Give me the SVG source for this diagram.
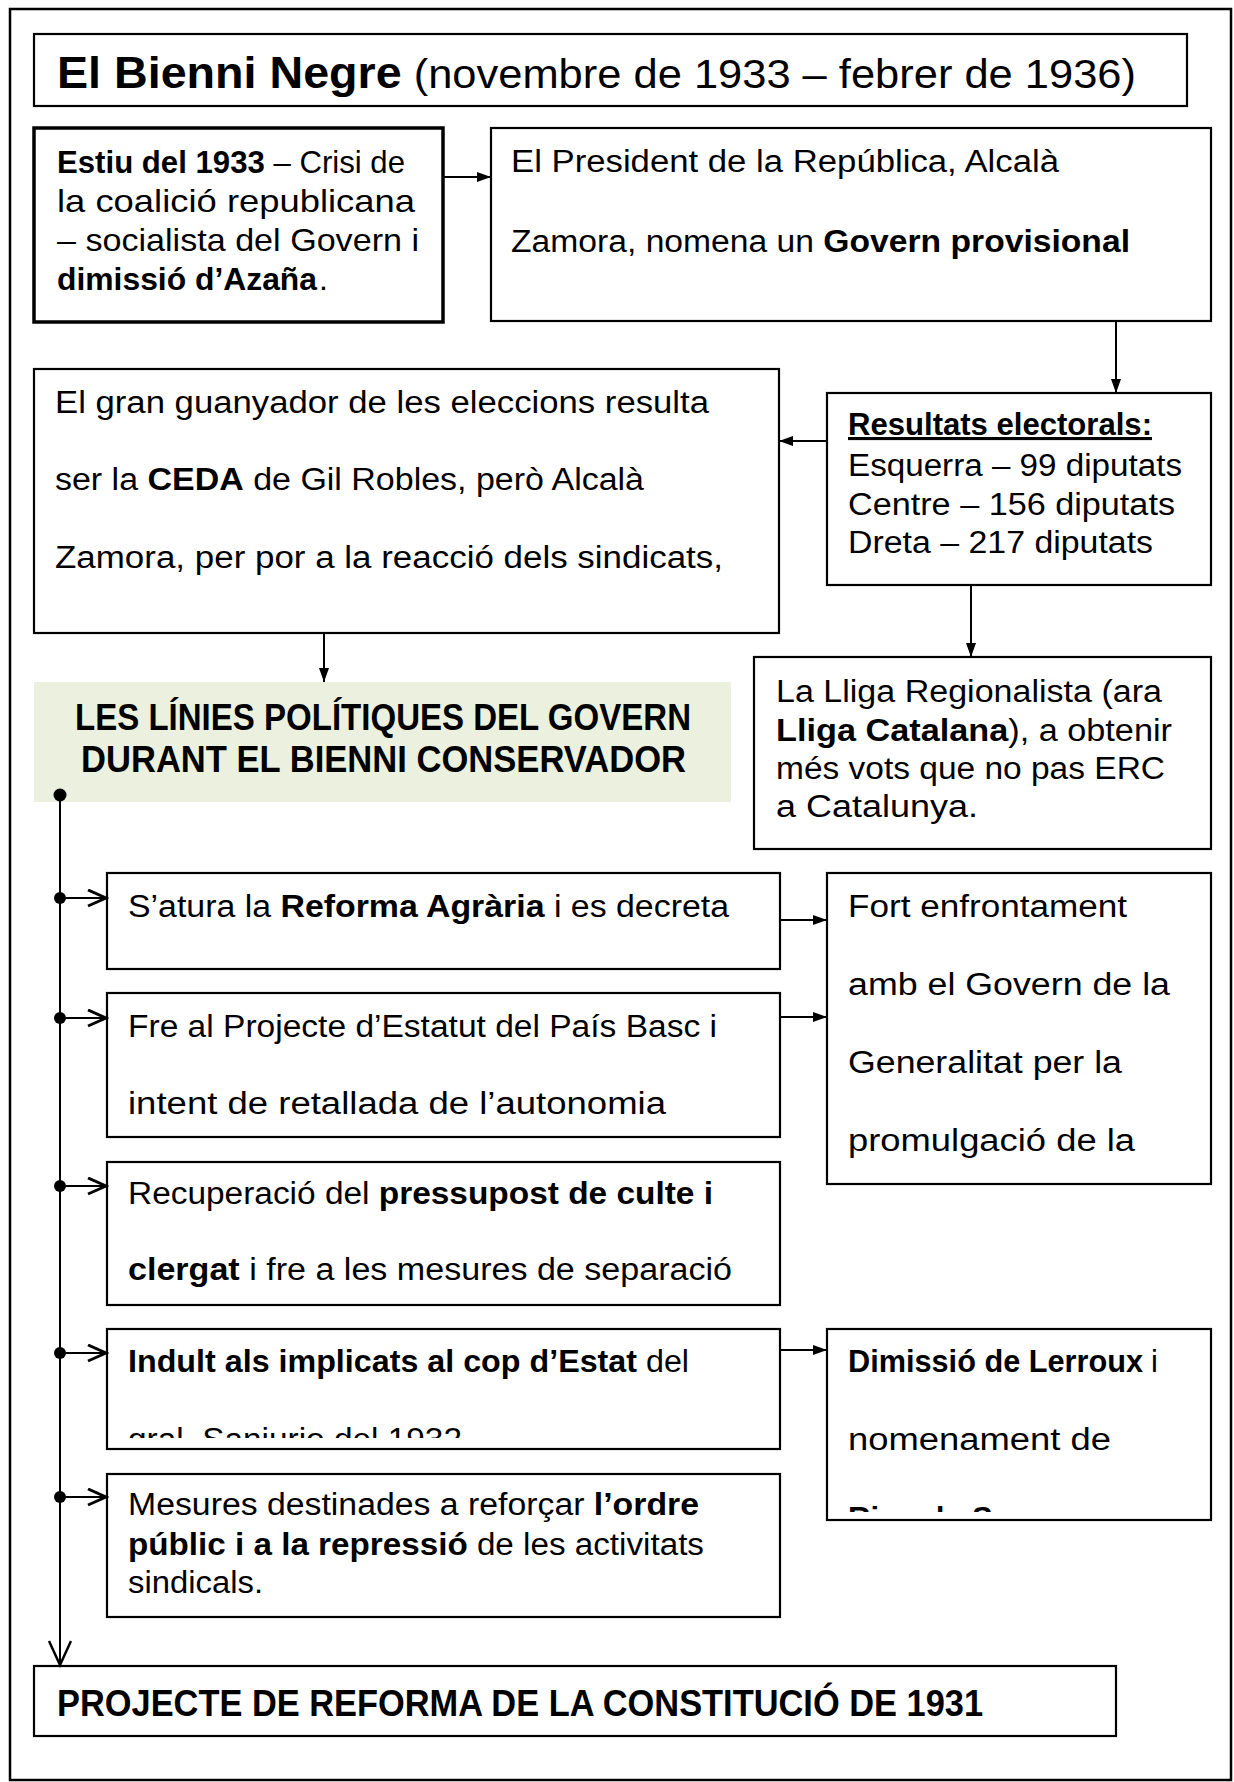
<svg xmlns="http://www.w3.org/2000/svg" width="1234" height="1782" viewBox="0 0 1234 1782">
<style>
text{font-family:"Liberation Sans","Noto Sans",sans-serif;fill:#000;font-size:31px}
.b{font-weight:bold}
.box{fill:#fff;stroke:#000;stroke-width:2.2}
.thick{stroke-width:3.5}
.con{stroke:#000;stroke-width:2;fill:none}
.t40{font-size:41px}
.t42{font-size:44px}
.t33{font-size:32px}
.t36{font-size:36px;font-weight:bold}
</style>
<defs>
<marker id="fa" markerUnits="userSpaceOnUse" markerWidth="16" markerHeight="12" refX="14" refY="5" orient="auto">
<path d="M0,0 L14,5 L0,10 z" fill="#000"/>
</marker>
<marker id="oa" markerUnits="userSpaceOnUse" markerWidth="22" markerHeight="20" refX="19" refY="9" orient="auto">
<path d="M1,1 L19,9 L1,17" fill="none" stroke="#000" stroke-width="3"/>
</marker>
<marker id="ob" markerUnits="userSpaceOnUse" markerWidth="28" markerHeight="26" refX="25" refY="12" orient="auto">
<path d="M1,1 L25,12 L1,23" fill="none" stroke="#000" stroke-width="2.5"/>
</marker>
<clipPath id="clip4"><rect x="107" y="1330" width="673" height="108"/></clipPath>
<clipPath id="clipD"><rect x="827" y="1330" width="385" height="182"/></clipPath>
</defs>
<rect x="10" y="9" width="1221" height="1771" fill="#fff" stroke="#000" stroke-width="2.5"/>

<g id="title">
<rect class="box" x="34" y="34" width="1153" height="72"/>
<text class="t40" x="57" y="88" textLength="1079" lengthAdjust="spacingAndGlyphs"><tspan class="b t42">El Bienni Negre</tspan> (novembre de 1933 – febrer de 1936)</text>
</g>

<g id="estiu">
<rect class="box thick" x="34" y="128" width="409" height="194"/>
<text class="t33" x="57" y="173" textLength="348" lengthAdjust="spacingAndGlyphs"><tspan class="b">Estiu del 1933</tspan> – Crisi de</text>
<text class="t33" x="57" y="212" textLength="358" lengthAdjust="spacingAndGlyphs">la coalició republicana</text>
<text class="t33" x="57" y="251" textLength="362" lengthAdjust="spacingAndGlyphs">– socialista del Govern i</text>
<text class="t33 b" x="57" y="290" textLength="260" lengthAdjust="spacingAndGlyphs">dimissió d’Azaña</text>
<text class="t33" x="319" y="290">.</text>
</g>

<g id="president">
<rect class="box" x="491" y="128" width="720" height="193"/>
<text x="511" y="172" textLength="548" lengthAdjust="spacingAndGlyphs">El President de la República, Alcalà</text>
<text x="511" y="252" textLength="619" lengthAdjust="spacingAndGlyphs">Zamora, nomena un <tspan class="b">Govern provisional</tspan></text>
</g>

<g id="ceda">
<rect class="box" x="34" y="369" width="745" height="264"/>
<text x="55" y="413" textLength="654" lengthAdjust="spacingAndGlyphs">El gran guanyador de les eleccions resulta</text>
<text x="55" y="490" textLength="589" lengthAdjust="spacingAndGlyphs">ser la <tspan class="b">CEDA</tspan> de Gil Robles, però Alcalà</text>
<text x="55" y="568" textLength="668" lengthAdjust="spacingAndGlyphs">Zamora, per por a la reacció dels sindicats,</text>
</g>

<g id="resultats">
<rect class="box" x="827" y="393" width="384" height="192"/>
<text class="b" x="848" y="435" textLength="304" lengthAdjust="spacingAndGlyphs" text-decoration="underline">Resultats electorals:</text>
<text x="848" y="476" textLength="334" lengthAdjust="spacingAndGlyphs">Esquerra – 99 diputats</text>
<text x="848" y="515" textLength="327" lengthAdjust="spacingAndGlyphs">Centre – 156 diputats</text>
<text x="848" y="553" textLength="305" lengthAdjust="spacingAndGlyphs">Dreta – 217 diputats</text>
</g>

<g id="lliga">
<rect class="box" x="754" y="657" width="457" height="192"/>
<text x="776" y="702" textLength="386" lengthAdjust="spacingAndGlyphs">La Lliga Regionalista (ara</text>
<text x="776" y="741" textLength="396" lengthAdjust="spacingAndGlyphs"><tspan class="b">Lliga Catalana</tspan>), a obtenir</text>
<text x="776" y="779" textLength="389" lengthAdjust="spacingAndGlyphs">més vots que no pas ERC</text>
<text x="776" y="817" textLength="202" lengthAdjust="spacingAndGlyphs">a Catalunya.</text>
</g>

<g id="linies">
<rect x="34" y="682" width="697" height="120" fill="#EBF1DE"/>
<text class="t36" x="75" y="730" textLength="616" lengthAdjust="spacingAndGlyphs">LES LÍNIES POLÍTIQUES DEL GOVERN</text>
<text class="t36" x="81" y="772" textLength="605" lengthAdjust="spacingAndGlyphs">DURANT EL BIENNI CONSERVADOR</text>
</g>

<g id="item1">
<rect class="box" x="107" y="873" width="673" height="96"/>
<text x="128" y="917" textLength="601" lengthAdjust="spacingAndGlyphs">S’atura la <tspan class="b">Reforma Agrària</tspan> i es decreta</text>
</g>

<g id="item2">
<rect class="box" x="107" y="993" width="673" height="144"/>
<text x="128" y="1037" textLength="589" lengthAdjust="spacingAndGlyphs">Fre al Projecte d’Estatut del País Basc i</text>
<text x="128" y="1114" textLength="538" lengthAdjust="spacingAndGlyphs">intent de retallada de l’autonomia</text>
</g>

<g id="item3">
<rect class="box" x="107" y="1162" width="673" height="143"/>
<text x="128" y="1204" textLength="585" lengthAdjust="spacingAndGlyphs">Recuperació del <tspan class="b">pressupost de culte i</tspan></text>
<text x="128" y="1280" textLength="604" lengthAdjust="spacingAndGlyphs"><tspan class="b">clergat</tspan> i fre a les mesures de separació</text>
</g>

<g id="item4">
<rect class="box" x="107" y="1329" width="673" height="120"/>
<text x="128" y="1372" textLength="561" lengthAdjust="spacingAndGlyphs"><tspan class="b">Indult als implicats al cop d’Estat</tspan> del</text>
<text x="128" y="1450" textLength="334" lengthAdjust="spacingAndGlyphs" clip-path="url(#clip4)">gral. Sanjurjo del 1932</text>
</g>

<g id="item5">
<rect class="box" x="107" y="1474" width="673" height="143"/>
<text x="128" y="1515" textLength="571" lengthAdjust="spacingAndGlyphs">Mesures destinades a reforçar <tspan class="b">l’ordre</tspan></text>
<text x="128" y="1555" textLength="576" lengthAdjust="spacingAndGlyphs"><tspan class="b">públic i a la repressió</tspan> de les activitats</text>
<text x="128" y="1593" textLength="135" lengthAdjust="spacingAndGlyphs">sindicals.</text>
</g>

<g id="fort">
<rect class="box" x="827" y="873" width="384" height="311"/>
<text x="848" y="917" textLength="279" lengthAdjust="spacingAndGlyphs">Fort enfrontament</text>
<text x="848" y="995" textLength="322" lengthAdjust="spacingAndGlyphs">amb el Govern de la</text>
<text x="848" y="1073" textLength="274" lengthAdjust="spacingAndGlyphs">Generalitat per la</text>
<text x="848" y="1151" textLength="287" lengthAdjust="spacingAndGlyphs">promulgació de la</text>
</g>

<g id="dimissio">
<rect class="box" x="827" y="1329" width="384" height="191"/>
<text class="b" x="848" y="1372" textLength="295" lengthAdjust="spacingAndGlyphs">Dimissió de Lerroux</text>
<text x="1151" y="1372">i</text>
<text x="848" y="1450" textLength="263" lengthAdjust="spacingAndGlyphs">nomenament de</text>
<text class="b" x="848" y="1529" clip-path="url(#clipD)">Ricardo Samper</text>
</g>

<g id="projecte">
<rect class="box" x="34" y="1666" width="1082" height="70"/>
<text class="t36" x="57" y="1716" textLength="926" lengthAdjust="spacingAndGlyphs">PROJECTE DE REFORMA DE LA CONSTITUCIÓ DE 1931</text>
</g>

<g id="connectors">
<line class="con" x1="443" y1="177" x2="491" y2="177" marker-end="url(#fa)"/>
<line class="con" x1="1116" y1="321" x2="1116" y2="393" marker-end="url(#fa)"/>
<line class="con" x1="827" y1="441" x2="779" y2="441" marker-end="url(#fa)"/>
<line class="con" x1="324" y1="633" x2="324" y2="682" marker-end="url(#fa)"/>
<line class="con" x1="971" y1="585" x2="971" y2="657" marker-end="url(#fa)"/>
<line class="con" x1="780" y1="920" x2="827" y2="920" marker-end="url(#fa)"/>
<line class="con" x1="780" y1="1017" x2="827" y2="1017" marker-end="url(#fa)"/>
<line class="con" x1="780" y1="1350" x2="827" y2="1350" marker-end="url(#fa)"/>
<line class="con" x1="60" y1="795" x2="60" y2="1665" marker-end="url(#ob)"/>
<circle cx="60" cy="795" r="6.5" fill="#000"/>
<circle cx="60" cy="898" r="6" fill="#000"/>
<circle cx="60" cy="1018" r="6" fill="#000"/>
<circle cx="60" cy="1186" r="6" fill="#000"/>
<circle cx="60" cy="1353" r="6" fill="#000"/>
<circle cx="60" cy="1497" r="6" fill="#000"/>
<line class="con" x1="60" y1="898" x2="106" y2="898" stroke-width="2.5" marker-end="url(#oa)"/>
<line class="con" x1="60" y1="1018" x2="106" y2="1018" stroke-width="2.5" marker-end="url(#oa)"/>
<line class="con" x1="60" y1="1186" x2="106" y2="1186" stroke-width="2.5" marker-end="url(#oa)"/>
<line class="con" x1="60" y1="1353" x2="106" y2="1353" stroke-width="2.5" marker-end="url(#oa)"/>
<line class="con" x1="60" y1="1497" x2="106" y2="1497" stroke-width="2.5" marker-end="url(#oa)"/>
</g>
</svg>
